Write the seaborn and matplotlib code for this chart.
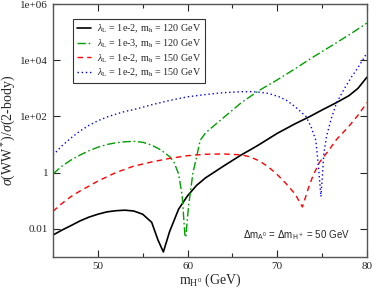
import numpy as np
import matplotlib
matplotlib.use("Agg")
import matplotlib.pyplot as plt
import seaborn as sns

# values (mH0 in GeV, ratio)
m_black = [45, 46, 47, 48, 49, 50, 51, 52, 53, 54, 55, 56, 56.7, 57.3, 58, 59,
           60, 61, 62, 63, 64, 65, 66, 67, 68, 70, 72, 73.6, 75, 76.6, 78, 79, 80]
r_black = [0.006, 0.009, 0.013, 0.019, 0.026, 0.033, 0.040, 0.044, 0.046, 0.043,
           0.033, 0.017, 0.004, 0.0015, 0.008, 0.05, 0.15, 0.35, 0.65, 1.05, 1.7,
           2.7, 4.3, 6.5, 10, 25, 55, 98, 170, 310, 550, 1000, 2500]

m_green = [45, 46, 47, 48, 49, 50, 51, 52, 53, 54, 55, 56, 57, 58, 58.5, 59, 59.4,
           59.7, 59.8, 60.1, 60.6, 61, 61.4, 62, 64, 66, 68, 70, 72, 74, 76, 78, 80]
r_green = [0.9, 1.7, 2.8, 4.2, 6, 8, 10, 11.5, 12.5, 13, 12, 9.5, 6.5, 3.7, 2.3,
           0.9, 0.15, 0.006, 0.005, 0.06, 1.0, 3.5, 14, 26, 90, 310, 850, 2000,
           5000, 13000, 32000, 80000, 210000]

m_red = [45, 46, 47, 48, 49, 50, 52, 54, 56, 58, 60, 62, 64, 66, 67, 68, 69, 70,
         71, 72, 72.8, 73.5, 74, 74.7, 75.8, 76.6, 78, 79, 80]
r_red = [0.042, 0.08, 0.14, 0.22, 0.33, 0.5, 1.0, 1.7, 2.4, 3.2, 4.0, 4.5, 4.6,
         4.3, 3.6, 2.6, 1.6, 0.85, 0.4, 0.17, 0.06, 0.3, 0.8, 2.3, 6.6, 15, 45,
         110, 310]

m_blue = [45, 46, 47, 48, 49, 50, 51, 52, 53, 54, 56, 58, 60, 62, 64, 66, 67, 68,
          69, 70.2, 71, 72, 73.2, 73.8, 74.3, 74.6, 74.87, 75.2, 75.5, 76, 76.6,
          77.5, 78.3, 79, 80]
r_blue = [4.2, 9, 17, 30, 48, 70, 95, 120, 150, 175, 260, 370, 500, 600, 700, 760,
          760, 730, 660, 500, 380, 220, 100, 40, 14, 1.5, 0.14, 5, 20, 80, 300,
          1000, 2600, 5500, 18000]

labels = [r"$\lambda_{\rm L}$ = 1e-2, m$_{\rm h}$ = 120 GeV",
          r"$\lambda_{\rm L}$ = 1e-3, m$_{\rm h}$ = 120 GeV",
          r"$\lambda_{\rm L}$ = 1e-2, m$_{\rm h}$ = 150 GeV",
          r"$\lambda_{\rm L}$ = 1e-2, m$_{\rm h}$ = 150 GeV"]

sns.set_style("ticks")
plt.rcParams["font.family"] = ["Liberation Serif", "DejaVu Serif"]
plt.rcParams["mathtext.fontset"] = "custom"
plt.rcParams["mathtext.rm"] = "Liberation Serif"
plt.rcParams["mathtext.it"] = "Liberation Serif:italic"

fig = plt.figure(figsize=(3.76, 2.88), dpi=100)
ax = fig.add_axes([0.141, 0.108, 0.835, 0.878])

sns.lineplot(x=m_black, y=r_black, color="black", lw=1.2, label=labels[0], ax=ax)
sns.lineplot(x=m_green, y=r_green, color="#00a000", lw=1.0, label=labels[1], ax=ax)
sns.lineplot(x=m_red, y=r_red, color="red", lw=1.0, label=labels[2], ax=ax)
sns.lineplot(x=m_blue, y=r_blue, color="blue", lw=1.0, label=labels[3], ax=ax)
lines = ax.get_lines()
lines[1].set_dashes([6, 2, 1.2, 2])
lines[2].set_dashes([4, 3])
lines[3].set_dashes([1, 2])

ax.set_yscale("log")
ax.set_xlim(45, 80)
ax.set_ylim(1e-3, 1e6)
ax.set_xticks([50, 60, 70, 80])
ax.set_xticks([45, 55, 65, 75], minor=True)
ax.set_yticks([1e-2, 1, 1e2, 1e4, 1e6])
ax.set_yticklabels(["0.01", "1", "1e+02", "1e+04", "1e+06"])
ax.yaxis.set_minor_locator(matplotlib.ticker.NullLocator())
ax.tick_params(which="both", direction="in", top=True, right=True, labelsize=8)
ax.tick_params(which="major", length=5, width=0.8)
ax.tick_params(which="minor", length=3, width=0.8)
for s in ax.spines.values():
    s.set_linewidth(1.0)
    s.set_color("#555555")

ax.set_xlabel(r"m$_{\rm H^0}$ (GeV)", fontsize=10, labelpad=1)
ax.set_ylabel(r"$\sigma$(WW$^*$)/$\sigma$(2-body)", fontsize=10, labelpad=2)

leg = ax.legend(loc="upper left", bbox_to_anchor=(0.064, 0.94), fontsize=7.3,
                frameon=True, fancybox=False, handlelength=1.4, borderpad=0.35,
                labelspacing=0.22, handletextpad=0.6, borderaxespad=0)
leg.get_frame().set_edgecolor("black")
leg.get_frame().set_linewidth(0.8)

ax.text(0.774, 0.087, r"$\Delta$m$_{\rm A^0}$ = $\Delta$m$_{\rm H^+}$ = 50 GeV",
        transform=ax.transAxes, ha="center", va="center", fontsize=7,
        family="Liberation Sans", math_fontfamily="dejavusans")

fig.savefig("out.png", dpi=100)
